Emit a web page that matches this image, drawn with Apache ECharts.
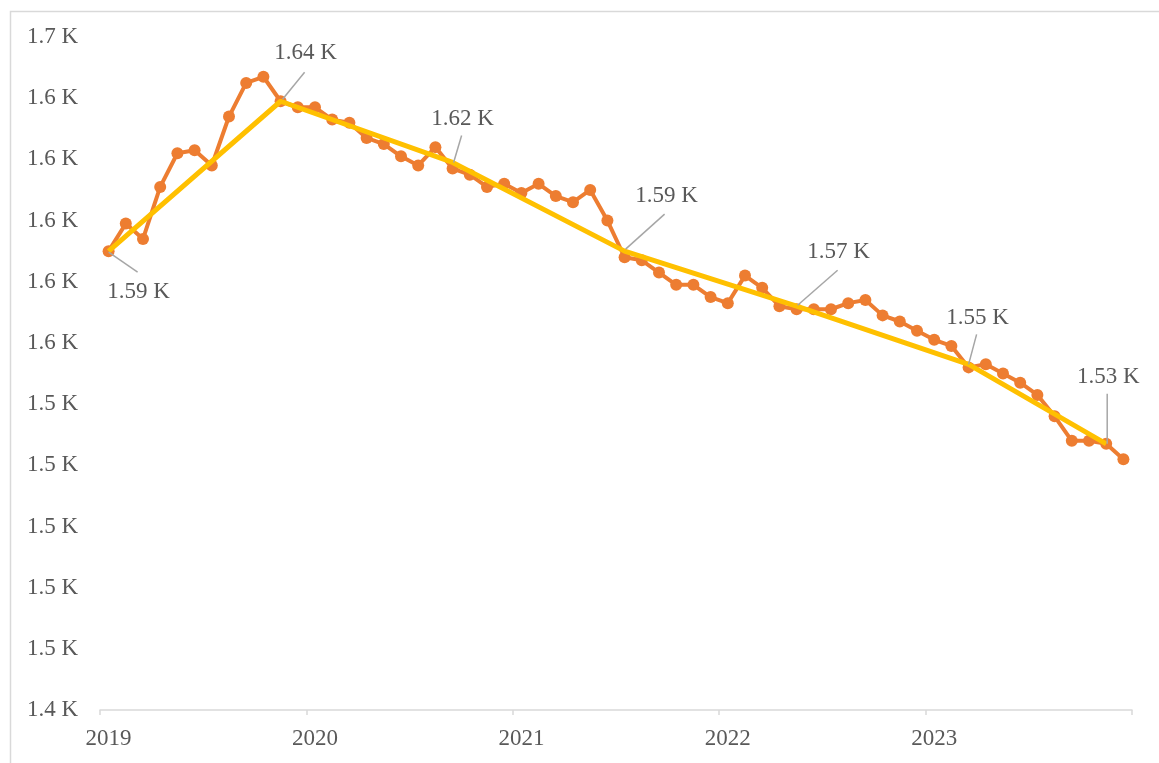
<!DOCTYPE html>
<html>
<head>
<meta charset="utf-8">
<script src="https://cdn.jsdelivr.net/npm/echarts@6/dist/echarts.min.js"></script>
<style>
html,body{margin:0;padding:0;background:#fff;}
#main{width:1159px;height:763px;}
</style>
</head>
<body>
<div id="main"></div>
<script>
// Monthly categories Jan 2019 .. Dec 2023
const years = [2019, 2020, 2021, 2022, 2023];
const months = [];
years.forEach(y => { for (let m = 1; m <= 12; m++) months.push(y + '-' + String(m).padStart(2, '0')); });

// Orange series (monthly values)
const values = [
  1590, 1599, 1594, 1611, 1622, 1623, 1618, 1634, 1645, 1647, 1639, 1637,
  1637, 1633, 1632, 1627, 1625, 1621, 1618, 1624, 1617, 1615, 1611, 1612,
  1609, 1612, 1608, 1606, 1610, 1600, 1588, 1587, 1583, 1579, 1579, 1575,
  1573, 1582, 1578, 1572, 1571, 1571, 1571, 1573, 1574, 1569, 1567, 1564,
  1561, 1559, 1552, 1553, 1550, 1547, 1543, 1536, 1528, 1528, 1527, 1522
];

// Yellow trend line vertices (month index, value)
const trendIndex = [0, 10, 20, 30, 40, 50, 58];
const trendValues = [1590, 1639, 1619, 1590, 1572, 1553, 1527];

// Y axis ticks
const yMin = 1440, yMax = 1660, yStep = 20;

// label placement relative to the vertex (px): [lineStartX, lineStartY, lineEndX, lineEndY, textX, textY]
const labelGeom = [
  [0, 1, 29, 21, 30, 41],
  [2, -2, 24, -29, 25, -48],
  [1, 0, 9, -27, 10, -43],
  [1, -2, 40, -37, 42, -55],
  [1, -1, 41, -36, 42, -54],
  [0, 0, 8, -30, 9, -46],
  [1, 0, 1, -50, 2, -67]
];

const FONT = '"Liberation Serif", "Times New Roman", serif';
const TXT = '#595959';

const trendData = trendIndex.map((i, k) => [i, trendValues[k]]);

const chart = echarts.init(document.getElementById('main'), null, {renderer: 'canvas'});
chart.setOption({
  animation: false,
  backgroundColor: '#fff',
  graphic: [{
    type: 'rect', left: 8, top: 9, z: -10,
    shape: {width: 1300, height: 900},
    style: {fill: 'none', stroke: '#d9d9d9', lineWidth: 1.5}
  }],
  grid: {left: 100, right: 27, top: 37, bottom: 53, containLabel: false},
  xAxis: {
    type: 'category',
    data: months,
    boundaryGap: true,
    axisLine: {lineStyle: {color: '#d9d9d9', width: 1.5}},
    axisTick: {show: true, interval: 11, length: 5, lineStyle: {color: '#d9d9d9', width: 1.5}},
    axisLabel: {
      interval: 11, margin: 17,
      color: TXT, fontFamily: FONT, fontSize: 23,
      formatter: v => v.slice(0, 4)
    },
    splitLine: {show: false}
  },
  yAxis: {
    type: 'value',
    min: yMin, max: yMax, interval: yStep,
    axisLine: {show: false},
    axisTick: {show: false},
    splitLine: {show: false},
    axisLabel: {
      margin: 22, color: TXT, fontFamily: FONT, fontSize: 23,
      formatter: v => (v / 1000).toFixed(1) + ' K'
    }
  },
  series: [
    {
      type: 'line',
      data: values,
      z: 2,
      symbol: 'circle',
      symbolSize: 12,
      showSymbol: true,
      showAllSymbol: true,
      lineStyle: {color: '#ED7D31', width: 4},
      itemStyle: {color: '#ED7D31'}
    },
    {
      type: 'line',
      data: trendData.map(d => [months[d[0]], d[1]]),
      z: 3,
      symbol: 'none',
      lineStyle: {color: '#FFC000', width: 5}
    },
    {
      type: 'custom',
      z: 4,
      clip: false,
      data: trendData,
      encode: {x: 0, y: 1},
      renderItem: function (params, api) {
        const p = api.coord([api.value(0), api.value(1)]);
        const g = labelGeom[params.dataIndex];
        return {
          type: 'group',
          children: [
            {
              type: 'line',
              shape: {x1: p[0] + g[0], y1: p[1] + g[1], x2: p[0] + g[2], y2: p[1] + g[3]},
              style: {stroke: '#a6a6a6', lineWidth: 1.5}
            },
            {
              type: 'text',
              x: p[0] + g[4], y: p[1] + g[5],
              style: {
                text: (api.value(1) / 1000).toFixed(2) + ' K',
                fill: TXT, font: '23px ' + FONT,
                align: 'center', verticalAlign: 'middle'
              }
            }
          ]
        };
      }
    }
  ]
});
</script>
</body>
</html>
